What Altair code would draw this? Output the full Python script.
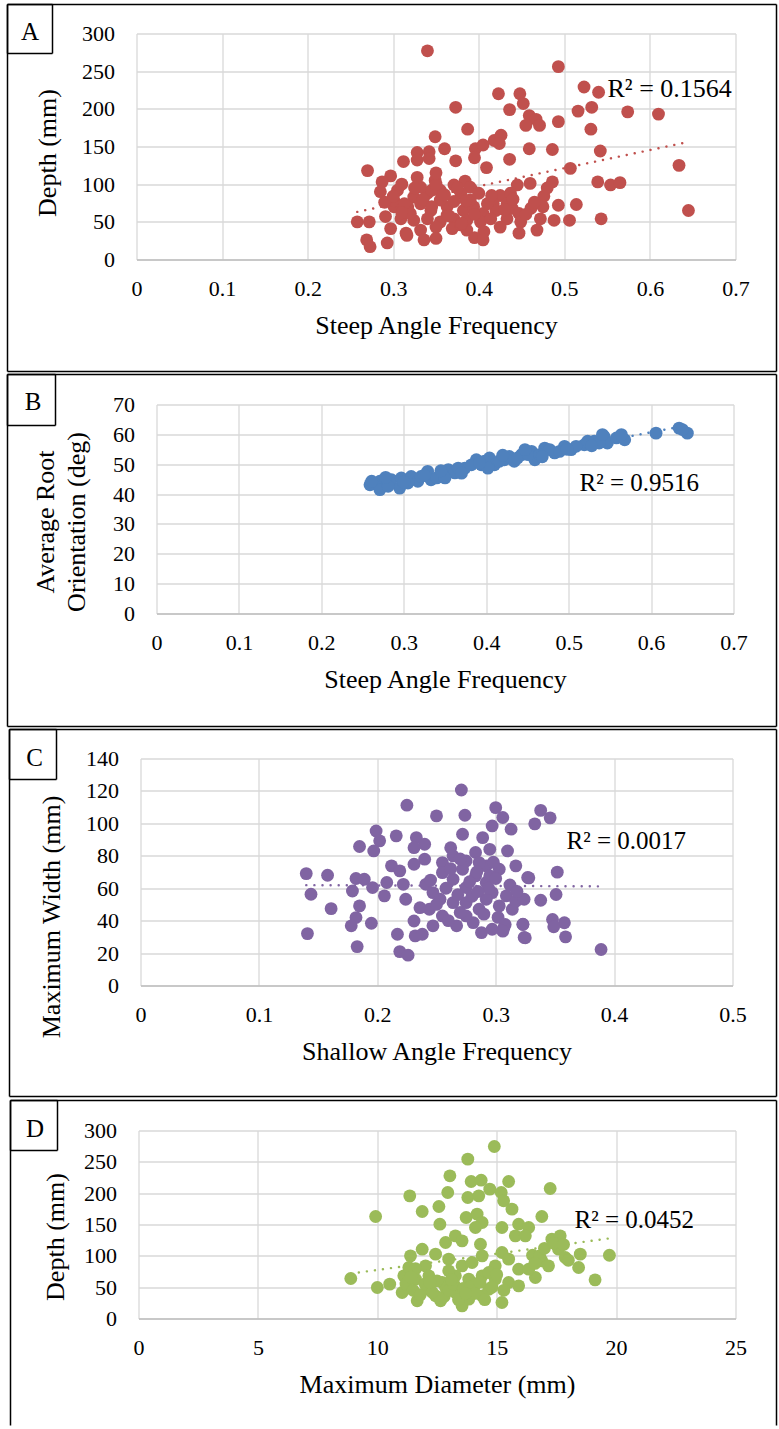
import altair as alt
import pandas as pd

# ---------------- data ----------------
# Panel A: Steep Angle Frequency vs Depth (mm)
a_x = [0.340, 0.493, 0.523, 0.540, 0.423, 0.448, 0.452, 0.436, 0.373, 0.516,
       0.532, 0.574, 0.610, 0.459, 0.467, 0.455, 0.471, 0.493, 0.531, 0.387,
       0.349, 0.418, 0.426, 0.424, 0.360, 0.396, 0.405, 0.459, 0.486, 0.542,
       0.328, 0.342, 0.312, 0.328, 0.342, 0.373, 0.395, 0.436, 0.409, 0.270,
       0.507, 0.634, 0.297, 0.328, 0.349, 0.287, 0.384, 0.390, 0.371, 0.539,
       0.554, 0.565, 0.486, 0.460, 0.445, 0.285, 0.305, 0.324, 0.340, 0.355,
       0.379, 0.425, 0.437, 0.476, 0.417, 0.301, 0.317, 0.332, 0.344, 0.363,
       0.382, 0.394, 0.405, 0.420, 0.439, 0.447, 0.461, 0.475, 0.493, 0.514,
       0.258, 0.272, 0.291, 0.309, 0.324, 0.340, 0.355, 0.371, 0.386, 0.402,
       0.414, 0.433, 0.449, 0.472, 0.488, 0.506, 0.543, 0.645, 0.297, 0.315,
       0.332, 0.350, 0.369, 0.386, 0.406, 0.425, 0.447, 0.468, 0.269, 0.273,
       0.293, 0.316, 0.336, 0.350, 0.395, 0.405, 0.301, 0.355, 0.371, 0.320,
       0.363, 0.390, 0.332, 0.345, 0.313, 0.379, 0.410, 0.433, 0.290, 0.300,
       0.310, 0.325, 0.335, 0.345, 0.350, 0.360, 0.365, 0.375, 0.380, 0.385,
       0.395, 0.400, 0.415, 0.430, 0.440, 0.455, 0.465, 0.480, 0.310, 0.350]
a_y = [277, 256, 229, 222, 220, 220, 207, 199, 202, 197,
       202, 196, 193, 191, 186, 178, 178, 183, 173, 173,
       163, 158, 165, 154, 147, 147, 152, 147, 146, 144,
       142, 143, 130, 132, 134, 131, 135, 133, 122, 118,
       121, 125, 111, 109, 105, 103, 104, 96, 99, 103,
       99, 102, 103, 101, 99, 90, 92, 83, 88, 92,
       88, 85, 88, 84, 74, 70, 70, 74, 65, 70,
       65, 70, 61, 65, 68, 61, 68, 70, 72, 73,
       50, 50, 57, 54, 52, 54, 50, 54, 52, 50,
       54, 54, 50, 54, 52, 52, 54, 65, 41, 35,
       39, 43, 41, 39, 37, 43, 35, 39, 26, 17,
       22, 32, 26, 28, 29, 26, 78, 79, 77, 61,
       59, 79, 96, 92, 74, 46, 74, 74, 76, 84,
       62, 95, 80, 70, 100, 86, 58, 95, 48, 78,
       60, 88, 85, 66, 80, 60, 76, 95, 100, 115]

# Panel B: Steep Angle Frequency vs Average Root Orientation (deg)
b_x = [0.259, 0.271, 0.271, 0.285, 0.295, 0.297, 0.309, 0.317, 0.329, 0.333,
       0.346, 0.354, 0.362, 0.374, 0.388, 0.394, 0.404, 0.410, 0.422, 0.434,
       0.443, 0.455, 0.459, 0.471, 0.483, 0.495, 0.503, 0.519, 0.531, 0.543,
       0.547, 0.558, 0.568, 0.606, 0.634, 0.644, 0.261, 0.281, 0.305, 0.321,
       0.340, 0.350, 0.366, 0.382, 0.398, 0.402, 0.416, 0.428, 0.438, 0.451,
       0.465, 0.477, 0.489, 0.509, 0.523, 0.537, 0.541, 0.564, 0.638, 0.278,
       0.300, 0.325, 0.345, 0.370, 0.392, 0.420, 0.447, 0.468, 0.498, 0.528]
b_y = [43.1, 44.3, 41.5, 44.8, 42.0, 45.4, 45.9, 44.3, 47.6, 44.8,
       46.5, 48.2, 47.1, 48.7, 51.5, 49.8, 52.1, 49.8, 51.5, 51.0,
       53.2, 54.3, 51.5, 55.4, 53.8, 56.0, 54.9, 56.5, 57.7, 59.3,
       57.1, 58.8, 58.2, 60.4, 62.1, 60.4, 44.3, 42.6, 43.7, 45.9,
       45.4, 45.4, 48.7, 49.8, 51.0, 48.7, 51.0, 52.6, 52.1, 53.2,
       53.2, 54.9, 54.3, 56.0, 57.7, 57.1, 59.9, 59.9, 61.6, 45.6,
       44.0, 46.3, 47.8, 47.0, 50.5, 53.0, 54.9, 52.5, 55.0, 56.2]

# Panel C: Shallow Angle Frequency vs Maximum Width (mm)
c_x = [0.271, 0.225, 0.250, 0.274, 0.300, 0.306, 0.297, 0.313, 0.199, 0.202,
       0.185, 0.197, 0.216, 0.233, 0.240, 0.231, 0.272, 0.262, 0.289, 0.295,
       0.310, 0.240, 0.231, 0.212, 0.219, 0.255, 0.264, 0.275, 0.283, 0.292,
       0.303, 0.317, 0.327, 0.140, 0.158, 0.144, 0.161, 0.141, 0.182, 0.189,
       0.179, 0.196, 0.208, 0.206, 0.222, 0.224, 0.185, 0.182, 0.178, 0.195,
       0.183, 0.217, 0.231, 0.232, 0.238, 0.219, 0.226, 0.241, 0.247, 0.253,
       0.244, 0.255, 0.267, 0.247, 0.264, 0.275, 0.283, 0.292, 0.297, 0.264,
       0.275, 0.286, 0.292, 0.303, 0.309, 0.314, 0.281, 0.288, 0.297, 0.307,
       0.275, 0.255, 0.272, 0.286, 0.295, 0.338, 0.346, 0.333, 0.352, 0.328,
       0.338, 0.351, 0.348, 0.358, 0.349, 0.359, 0.323, 0.325, 0.389, 0.317,
       0.308, 0.306, 0.324, 0.323, 0.324, 0.258, 0.262, 0.268, 0.270, 0.278,
       0.280, 0.284, 0.290, 0.294, 0.300, 0.302, 0.312, 0.318, 0.250, 0.260,
       0.270, 0.285, 0.298, 0.236, 0.245]
c_y = [120.6, 111.2, 104.6, 105.0, 109.7, 103.6, 98.4, 96.4, 95.3, 89.2,
       85.7, 83.0, 92.3, 91.2, 87.1, 85.0, 93.3, 85.0, 91.2, 84.0,
       83.0, 77.9, 74.8, 73.8, 70.7, 75.8, 79.9, 76.8, 82.0, 73.8,
       71.7, 73.8, 66.6, 69.0, 68.0, 56.3, 47.4, 32.0, 66.0, 65.5,
       58.3, 60.4, 63.5, 55.3, 62.4, 53.2, 49.1, 41.9, 36.8, 38.4,
       24.0, 31.6, 39.8, 30.6, 31.6, 20.9, 18.7, 62.4, 57.3, 53.2,
       47.0, 42.9, 36.8, 36.8, 65.5, 60.4, 67.6, 63.5, 57.3, 51.1,
       51.1, 47.0, 53.2, 49.1, 55.3, 47.0, 38.8, 32.6, 34.7, 35.7,
       42.9, 69.6, 71.7, 75.8, 67.6, 108.0, 103.4, 99.7, 69.9, 66.4,
       52.6, 56.1, 40.7, 38.7, 36.2, 30.0, 37.6, 29.4, 22.2, 52.0,
       37.6, 33.5, 53.2, 37.8, 29.6, 60.0, 72.0, 56.0, 45.0, 64.0,
       55.0, 70.0, 44.0, 60.0, 66.0, 42.0, 62.0, 58.0, 50.0, 40.0,
       78.0, 58.0, 76.0, 48.0, 65.0]

# Panel D: Maximum Diameter (mm) vs Depth (mm)
d_x = [14.90, 13.79, 13.04, 13.93, 14.35, 15.50, 14.71, 15.19, 11.36, 12.95,
       13.79, 14.25, 17.24, 12.58, 11.88, 15.29, 15.64, 9.93, 16.89, 13.72,
       14.18, 14.39, 12.62, 15.22, 15.92, 16.34, 15.78, 16.20, 14.11, 13.27,
       12.86, 13.55, 17.31, 17.66, 11.88, 11.39, 12.44, 14.32, 15.22, 14.39,
       16.50, 16.89, 17.59, 17.87, 18.50, 19.72, 17.17, 18.43, 19.12, 16.62,
       8.89, 10.00, 10.52, 11.11, 11.32, 12.02, 12.99, 13.55, 13.97, 14.94,
       15.50, 15.92, 11.60, 12.16, 12.72, 13.27, 13.83, 14.39, 14.94, 15.50,
       15.92, 11.04, 11.67, 12.44, 12.65, 13.27, 13.55, 13.83, 14.39, 14.67,
       15.22, 12.16, 12.86, 14.11, 11.60, 12.99, 14.67, 16.34, 11.20, 11.50,
       11.80, 12.00, 12.30, 12.50, 12.80, 13.00, 13.20, 13.40, 13.60, 13.90,
       14.10, 14.30, 14.50, 14.80, 15.00, 15.30, 11.40, 12.20, 13.10, 13.70,
       16.80, 17.00, 17.40, 17.80, 18.00, 16.60]
d_y = [274.5, 254.3, 227.7, 218.6, 220.7, 218.6, 206.4, 201.1, 195.7, 201.1,
       193.1, 195.7, 207.4, 178.7, 170.7, 187.8, 174.5, 162.8, 162.8, 161.2,
       166.5, 153.2, 150.5, 145.2, 150.5, 145.2, 131.9, 131.9, 145.2, 131.9,
       121.3, 123.9, 126.6, 131.9, 110.6, 100.0, 102.7, 118.6, 105.3, 100.0,
       101.0, 92.0, 110.6, 97.3, 102.7, 101.0, 84.0, 81.4, 61.7, 65.4,
       63.8, 49.5, 54.8, 68.1, 81.4, 84.0, 94.7, 84.0, 89.4, 84.0,
       94.7, 78.7, 62.8, 68.1, 57.4, 68.1, 62.8, 68.1, 62.8, 57.4,
       52.1, 41.5, 28.2, 36.2, 28.2, 41.5, 20.2, 30.9, 36.2, 46.8,
       25.5, 46.8, 49.5, 54.8, 79.4, 76.1, 73.4, 78.7, 55.0, 45.0,
       38.0, 55.0, 42.0, 60.0, 35.0, 45.0, 55.0, 30.0, 48.0, 50.0,
       40.0, 58.0, 30.0, 50.0, 70.0, 45.0, 66.0, 58.0, 62.0, 40.0,
       100.0, 112.0, 120.0, 118.0, 93.0, 88.0]

steep_ticks = [0, 0.1, 0.2, 0.3, 0.4, 0.5, 0.6, 0.7]
shallow_ticks = [0, 0.1, 0.2, 0.3, 0.4, 0.5]
diam_ticks = [0, 5, 10, 15, 20, 25]
depth_ticks = [0, 50, 100, 150, 200, 250, 300]
orient_ticks = [0, 10, 20, 30, 40, 50, 60, 70]
width_ticks = [0, 20, 40, 60, 80, 100, 120, 140]

# ---------------- layout / style ----------------
FONT = "Liberation Serif"
BASE_X = 137      # page x of every panel group's left edge
PANEL_W = 600
ONE = pd.DataFrame({"k": [0]})
LABEL_EXPR = "format(datum.value, '~g')"


def seg(x1, y1, x2, y2, sw=1.5):
    return alt.Chart(ONE).mark_rule(color="black", strokeWidth=sw).encode(
        x=alt.value(x1), x2=alt.value(x2), y=alt.value(y1), y2=alt.value(y2))


def box(x1, y1, x2, y2, top, bottom=True):
    gx1, gx2 = x1 - BASE_X, x2 - BASE_X
    gy1, gy2 = y1 - top, y2 - top
    out = [seg(gx1, gy1, gx2, gy1), seg(gx1, gy1, gx1, gy2), seg(gx2, gy1, gx2, gy2)]
    if bottom:
        out.append(seg(gx1, gy2, gx2, gy2))
    return out


def panel(xs, ys, color, xdom, xticks, ydom, yticks, xtitle, ytitle,
          plot, frame, frame_bottom, lbox, letter, letter_pos,
          r2, r2_pos, r2_size, ytitle_pos):
    left, top, right, bottom = plot
    shift = left - BASE_X
    df = pd.DataFrame({"x": xs, "y": ys})
    xscale = alt.Scale(domain=xdom, range=[shift, right - BASE_X], nice=False, zero=False)
    yscale = alt.Scale(domain=ydom, nice=False, zero=False)
    common = dict(grid=True, ticks=False, tickSize=0, labelExpr=LABEL_EXPR,
                  labelFlush=False, labelOverlap=False,
                  labelFont=FONT, titleFont=FONT, labelFontSize=22, titleFontSize=26,
                  labelColor="black", titleColor="black", titleFontWeight="normal",
                  gridColor="#d9d9d9", gridWidth=1.3)
    xaxis = alt.Axis(values=xticks, title=xtitle, labelPadding=19, titleY=74,
                     titleBaseline="alphabetic", domainColor="#bfbfbf", domainWidth=1.5,
                     **common)
    yaxis = alt.Axis(values=yticks, title=ytitle, labelPadding=22, domain=False,
                     offset=-shift, titleX=ytitle_pos[0] - left,
                     titleY=ytitle_pos[1] - top, titleAngle=270, titleAlign="center",
                     titleBaseline="middle", titleLineHeight=31, **common)
    X = alt.X("x:Q", scale=xscale, axis=xaxis)
    Y = alt.Y("y:Q", scale=yscale, axis=yaxis)

    trend = alt.Chart(df).transform_regression("x", "y").mark_line(
        color=color, strokeWidth=2.4, strokeDash=[0.1, 8], strokeCap="round"
    ).encode(x=X, y=Y)
    pts = alt.Chart(df).mark_circle(size=165, color=color, opacity=1).encode(x=X, y=Y)
    r2t = alt.Chart(ONE).mark_text(
        text=r2, font=FONT, fontSize=r2_size, align="left", baseline="alphabetic",
        color="black").encode(x=alt.value(r2_pos[0] - BASE_X), y=alt.value(r2_pos[1] - top))
    let = alt.Chart(ONE).mark_text(
        text=letter, font=FONT, fontSize=25, align="center", baseline="middle",
        color="black").encode(x=alt.value(letter_pos[0] - BASE_X),
                              y=alt.value(letter_pos[1] - top))
    layers = [trend, pts, r2t, let]
    layers += box(*frame, top, bottom=frame_bottom)
    layers += box(*lbox, top)
    return alt.layer(*layers).properties(width=PANEL_W, height=bottom - top)


A = panel(a_x, a_y, "#C0504D", [0, 0.7], steep_ticks, [0, 300], depth_ticks,
          "Steep Angle Frequency", "Depth (mm)",
          plot=(137, 34, 736, 260), frame=(8, 5, 777, 372), frame_bottom=True,
          lbox=(8, 5, 53, 54), letter="A", letter_pos=(30.5, 32.5),
          r2="R² = 0.1564", r2_pos=(608, 97), r2_size=26, ytitle_pos=(48, 153))
B = panel(b_x, b_y, "#4F81BD", [0, 0.7], steep_ticks, [0, 70], orient_ticks,
          "Steep Angle Frequency", ["Average Root", "Orientation (deg)"],
          plot=(157, 405, 734, 614), frame=(8, 375, 777, 727), frame_bottom=True,
          lbox=(8, 375, 56, 426), letter="B", letter_pos=(33.5, 402),
          r2="R² = 0.9516", r2_pos=(580, 491), r2_size=25, ytitle_pos=(46, 522))
C = panel(c_x, c_y, "#8064A2", [0, 0.5], shallow_ticks, [0, 140], width_ticks,
          "Shallow Angle Frequency", "Maximum Width (mm)",
          plot=(141, 759, 733, 986), frame=(10, 730, 777, 1097), frame_bottom=True,
          lbox=(10, 730, 57, 780), letter="C", letter_pos=(35, 758),
          r2="R² = 0.0017", r2_pos=(567, 849), r2_size=25, ytitle_pos=(52, 917))
D = panel(d_x, d_y, "#9BBB59", [0, 25], diam_ticks, [0, 300], depth_ticks,
          "Maximum Diameter (mm)", "Depth (mm)",
          plot=(139, 1131, 736, 1319), frame=(11, 1101, 777, 1426), frame_bottom=False,
          lbox=(11, 1101, 58, 1151), letter="D", letter_pos=(35.5, 1129.5),
          r2="R² = 0.0452", r2_pos=(575, 1228), r2_size=25, ytitle_pos=(56, 1237))

chart = alt.vconcat(A, B, C, D, spacing=145, bounds="flush").properties(
    padding={"left": 6.5, "top": 3.5, "right": 0, "bottom": 0},
    background="white"
).configure_view(strokeWidth=0)

chart.save("out.html", embed_options={"renderer": "svg", "actions": False})
